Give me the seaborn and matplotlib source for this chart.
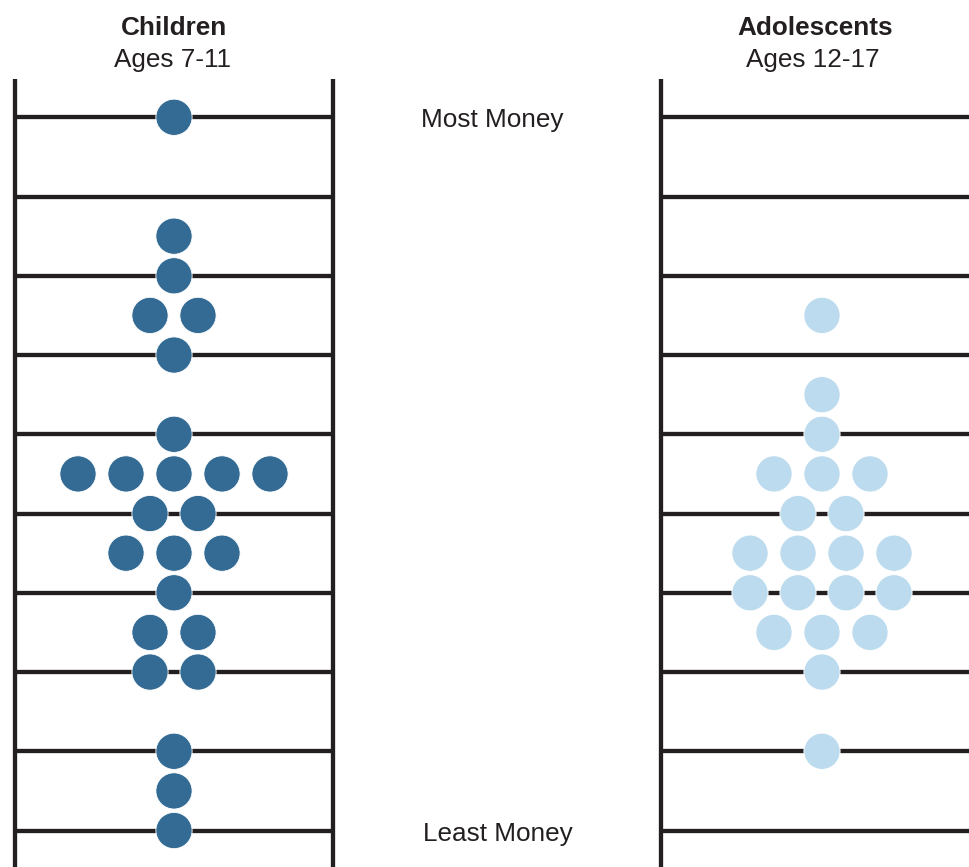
import numpy as np
import pandas as pd
import matplotlib
matplotlib.use("Agg")
import matplotlib.pyplot as plt
import seaborn as sns

# ---- data (ladder rung values, 1 = least money, 10 = most money) ----
groups = ["Children", "Adolescents"]
subtitles = ["Ages 7-11", "Ages 12-17"]
children_values = [10, 8.5, 8, 7.5, 7.5, 7, 6,
                   5.5, 5.5, 5.5, 5.5, 5.5, 5, 5,
                   4.5, 4.5, 4.5, 4, 3.5, 3.5, 3, 3,
                   2, 1.5, 1]
adolescent_values = [7.5, 6.5, 6, 5.5, 5.5, 5.5, 5, 5,
                     4.5, 4.5, 4.5, 4.5, 4, 4, 4, 4,
                     3.5, 3.5, 3.5, 3, 2]
rungs = list(range(1, 11))
top_label = "Most Money"
bottom_label = "Least Money"
colors = {"Children": "#336b94", "Adolescents": "#bddbee"}

# ---- build table ----
df = pd.concat([
    pd.DataFrame({"group": "Children", "value": children_values}),
    pd.DataFrame({"group": "Adolescents", "value": adolescent_values}),
], ignore_index=True)
centers = {"Children": 0.0, "Adolescents": 13.5}   # in dot-width units
rank = df.groupby(["group", "value"]).cumcount()
count = df.groupby(["group", "value"])["value"].transform("size")
df["x"] = df["group"].map(centers) + (rank - (count - 1) / 2.0)

sns.set_theme(style="white")
plt.rcParams["font.family"] = ["Liberation Sans", "DejaVu Sans"]
ink = "#231f20"

fig = plt.figure(figsize=(9.69, 8.67), dpi=100)
ax = fig.add_axes([0, 0, 1, 1])
ax.set_xlim(-3.625, 16.5625)
ax.set_ylim(0.54, 11.48)
ax.axis("off")

half = 3.32
rail_top = 10.483
lw = 3.1
for g in groups:
    c = centers[g]
    left = c - half - (0.04 if g == "Adolescents" else 0.0)
    ax.vlines([left, c + half], 0.0, rail_top, color=ink, lw=lw, zorder=1)
    ax.hlines(rungs, left, c + half, color=ink, lw=lw, zorder=1)

sns.scatterplot(data=df, x="x", y="value", hue="group", palette=colors,
                s=680, edgecolor="white", linewidth=0.6, legend=False,
                ax=ax, zorder=3, clip_on=False)

fs = 18.8
ax.text(0.0, 11.0385, groups[0], ha="center", va="baseline",
        fontsize=fs, fontweight="bold", color=ink)
ax.text(-0.03, 10.635, subtitles[0], ha="center", va="baseline",
        fontsize=fs, color=ink)
ax.text(13.354, 11.0385, groups[1], ha="center", va="baseline",
        fontsize=fs, fontweight="bold", color=ink)
ax.text(13.31, 10.635, subtitles[1], ha="center", va="baseline",
        fontsize=fs, color=ink)
ax.text(6.625, 9.881, top_label, ha="center", va="baseline",
        fontsize=fs, color=ink)
ax.text(6.75, 0.872, bottom_label, ha="center", va="baseline",
        fontsize=fs, color=ink)

fig.savefig("out.png", dpi=100)
